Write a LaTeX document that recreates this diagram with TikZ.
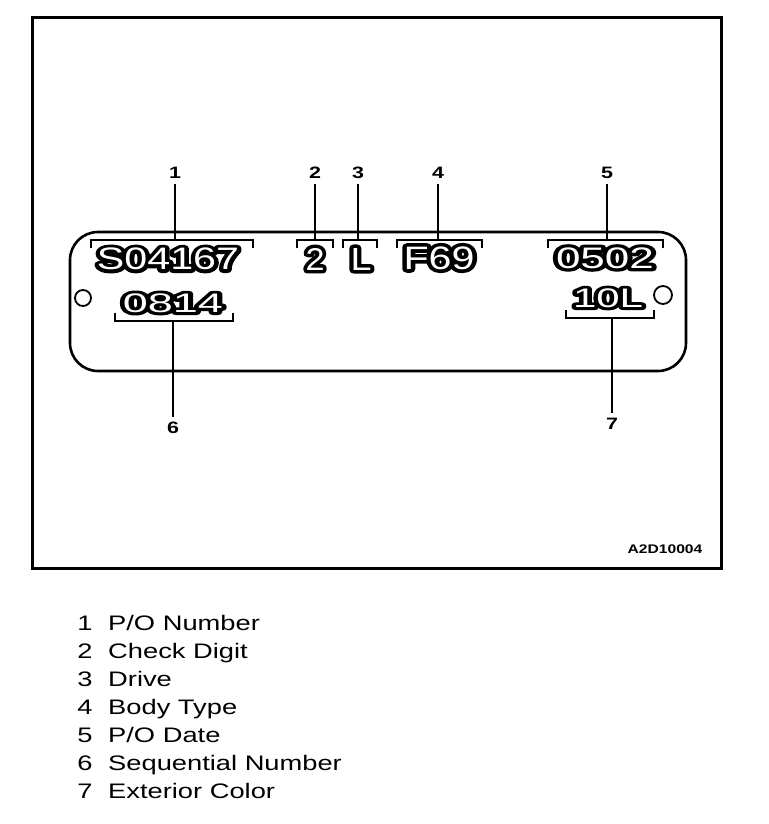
\documentclass[tikz,border=0pt]{standalone}
\usepackage{fontspec}
\usepackage{graphicx}
\setmainfont{Liberation Sans}
\newfontfamily\legendfont[FakeStretch=1.3]{Liberation Sans}
\newfontfamily\calloutfont[FakeStretch=1.3]{Liberation Sans}
\newfontfamily\codefont[FakeStretch=1.25]{Liberation Sans}
\newfontfamily\heavyfont[FakeBold=22]{Liberation Sans}
\newfontfamily\corefont{Liberation Sans}
\newcommand{\platetext}[3]{\resizebox*{#1pt}{#2pt}{\fontsize{30}{30}\selectfont\special{pdf:literal direct 1 j 1 J}\rlap{\color{black}\heavyfont #3}{\color{white}\corefont #3}}}
\tikzset{
  frameline/.style={line width=3pt},
  plateline/.style={line width=2.6pt, rounded corners=28pt},
  bracketline/.style={line width=2.6pt},
  leaderline/.style={line width=2.6pt},
  callout/.style={font=\calloutfont\bfseries\fontsize{16.5}{17}\selectfont, inner sep=0pt, outer sep=5pt},
  platetxt/.style={inner sep=0pt},
  hole/.style={circle, draw, line width=1.8pt, inner sep=0pt, minimum size=16pt},
  legnum/.style={font=\legendfont\fontsize{21}{22}\selectfont, inner sep=0pt, anchor=base},
  legtext/.style={font=\legendfont\fontsize{21}{22}\selectfont, inner sep=0pt, anchor=base west}
}
\begin{document}
\begin{tikzpicture}[x=1pt,y=-1pt]
\useasboundingbox (0,0) rectangle (768,824);
% outer frame
\draw[frameline] (32,17.5) rectangle (721,568);
\node[font=\codefont\bfseries\fontsize{12.5}{13}\selectfont, inner sep=0pt] (code) at (665,549) {A2D10004};

% plate
\draw[plateline] (70,232) rectangle (686,371);
\node[hole] (h1) at (83,298) {};
\node[hole, minimum size=18pt] (h2) at (663,295) {};

% plate texts
\node[platetxt] (s1) at (168,259) {\platetext{142}{22}{S04167}};
\node[platetxt] (s2) at (315,259) {\platetext{19}{22}{2}};
\node[platetxt] (s3) at (361,259) {\platetext{21}{22}{L}};
\node[platetxt] (s4) at (439,258) {\platetext{71}{23}{F69}};
\node[platetxt] (s5) at (605,258) {\platetext{98}{21}{0502}};
\node[platetxt] (s6) at (173,303) {\platetext{100}{19}{0814}};
\node[platetxt] (s7) at (608,298) {\platetext{70}{19}{10L}};

% brackets
\draw[bracketline] (91,248) -- (91,240) -- (253,240) -- (253,248);
\draw[bracketline] (297,248) -- (297,240) -- (333,240) -- (333,248);
\draw[bracketline] (343,248) -- (343,240) -- (377,240) -- (377,248);
\draw[bracketline] (397,248) -- (397,240) -- (482,240) -- (482,248);
\draw[bracketline] (548,248) -- (548,240) -- (663,240) -- (663,248);
\draw[bracketline] (115,313) -- (115,321) -- (233,321) -- (233,313);
\draw[bracketline] (566,310) -- (566,318) -- (654,318) -- (654,310);

\coordinate (t1) at (175,240);
\coordinate (t2) at (315,240);
\coordinate (t3) at (358,240);
\coordinate (t4) at (438,240);
\coordinate (t5) at (607,240);
\coordinate (t6) at (173,321);
\coordinate (t7) at (612,318);

% callouts
\node[callout] (l1) at (175,173) {1};
\node[callout] (l2) at (315,173) {2};
\node[callout] (l3) at (358,173) {3};
\node[callout] (l4) at (438,173) {4};
\node[callout] (l5) at (607,173) {5};
\node[callout] (l6) at (173,428) {6};
\node[callout] (l7) at (612,424) {7};

\draw[leaderline] (l1) -- (t1);
\draw[leaderline] (l2) -- (t2);
\draw[leaderline] (l3) -- (t3);
\draw[leaderline] (l4) -- (t4);
\draw[leaderline] (l5) -- (t5);
\draw[leaderline] (t6) -- (l6);
\draw[leaderline] (t7) -- (l7);

% legend
\node[legnum] (n1) at (85,630) {1};
\node[legtext] (d1) at (108,630) {P/O Number};
\node[legnum] (n2) at (85,658) {2};
\node[legtext] (d2) at (108,658) {Check Digit};
\node[legnum] (n3) at (85,686) {3};
\node[legtext] (d3) at (108,686) {Drive};
\node[legnum] (n4) at (85,714) {4};
\node[legtext] (d4) at (108,714) {Body Type};
\node[legnum] (n5) at (85,742) {5};
\node[legtext] (d5) at (108,742) {P/O Date};
\node[legnum] (n6) at (85,770) {6};
\node[legtext] (d6) at (108,770) {Sequential Number};
\node[legnum] (n7) at (85,798) {7};
\node[legtext] (d7) at (108,798) {Exterior Color};
\end{tikzpicture}
\end{document}
